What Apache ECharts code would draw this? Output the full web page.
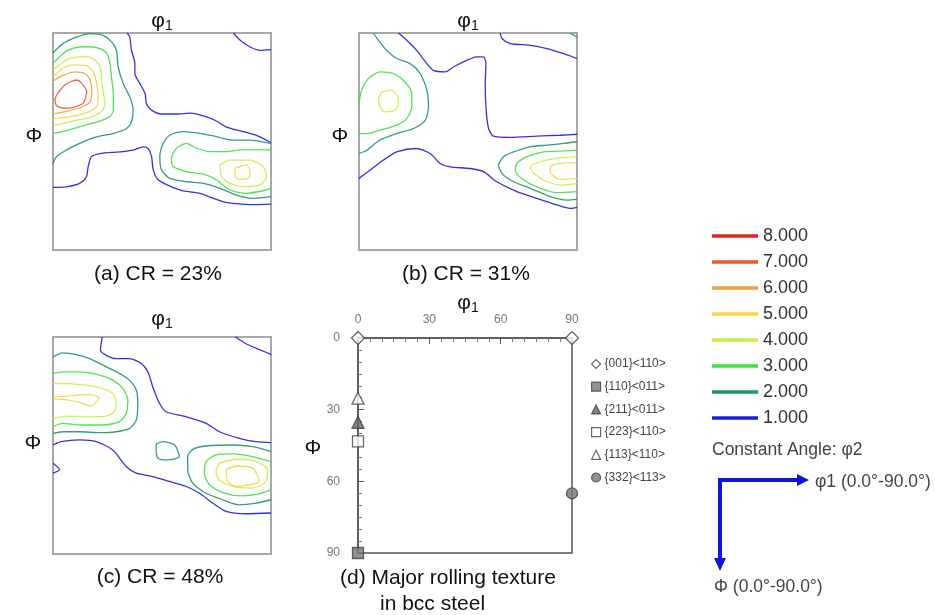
<!DOCTYPE html>
<html><head><meta charset="utf-8">
<script src="https://cdn.jsdelivr.net/npm/echarts@6/dist/echarts.min.js"></script>
<style>html,body{margin:0;padding:0;background:#fff}#c{width:935px;height:615px}</style>
</head><body><div id="c"></div>
<script>
// ---- contour levels ----
const levelLabels = ['8.000','7.000','6.000','5.000','4.000','3.000','2.000','1.000'];
const levelColors = ['#e3241b','#e85a2a','#f0a23c','#f7d448','#c5ef45','#3fe03f','#229070','#1c1ce0'];

// ---- (a) CR = 23% : [level, [[phi1, Phi], ...]] ----
const contoursA = [
  [1, [[74.5,0],[77.3,3.0],[81.4,5.8],[85.6,7.2],[90,6.9]]],
  [1, [[30.6,0],[31.7,1.7],[32.4,7.2],[33.8,12.7],[33.8,16.8],[35.9,21.0],[38.0,25.1],[38.6,29.3],[40.7,32.0],[44.9,33.6],[51.0,33.6],[57,33.2],[62.5,34.5],[67.5,36.5],[71.6,39.0],[78.5,40.9],[84,42.5],[90,45.5]]],
  [1, [[0,64.0],[5.5,63.8],[11.0,62.4],[13.8,59.6],[14.5,55.5],[15.9,51.3],[19.3,50.0],[27.6,49.3],[33.1,48.6],[37.3,47.2],[39.3,47.9],[40.7,51.3],[41.4,56.9],[43.5,61.0],[48.3,63.5],[53.8,65.5],[60.7,66.5],[66,68.5],[70.3,70.0],[75.9,70.8],[82.8,71.2],[90,71.0]]],
  [2, [[0,8.3],[4.1,4.4],[9.7,1.7],[15.2,0.3],[20.7,1.0],[24.2,3.7],[26.2,7.2],[26.9,14.1],[29.0,21.0],[31.7,26.5],[33.1,32.0],[32.4,36.8],[30.4,39.6],[24.8,41.7],[17.9,43.1],[11.0,45.8],[5.5,48.6],[1.4,51.3],[0,54.1]]],
  [2, [[90,45.8],[81.3,44.4],[74.4,44.4],[67.5,43.0],[60.6,41.6],[53.8,40.9],[48.3,42.3],[45.5,45.8],[44.1,51.3],[44.8,56.8],[48.3,60.3],[55.1,61.7],[62.0,62.4],[68.9,64.4],[75.8,67.2],[82.7,68.6],[90,67.9]]],
  [3, [[0,12.6],[4.3,8.4],[8.4,6.3],[13.9,5.7],[18.7,6.3],[22.2,8.4],[23.5,12.6],[24.2,18.8],[24.9,25.0],[24.9,31.9],[23.5,34.6],[18.0,37.0],[11.1,38.8],[5.6,40.5],[0,41.7]]],
  [3, [[90,48.5],[81.3,48.5],[77.2,48.5],[71.6,49.2],[64.8,49.2],[59.3,47.8],[55.1,45.8],[51.0,47.8],[48.9,52.0],[49.6,55.4],[55.1,57.5],[63.4,58.9],[67.5,61.0],[73.0,65.1],[79.9,66.5],[88.2,65.1],[90,64.4]]],
  [4, [[0,15.3],[4.3,11.9],[8.4,10.1],[13.9,9.8],[17.3,11.2],[19.4,13.9],[20.1,19.5],[20.8,25.0],[21.5,29.1],[20.1,32.5],[15.3,35.0],[8.4,36.5],[2.9,37.8],[0,38.3]]],
  [4, [[68.9,54.8],[73.0,52.7],[81.3,52.7],[86.8,55.4],[88.2,59.6],[85.4,63.0],[78.5,63.7],[73.0,62.4],[69.6,59.6],[68.9,54.8]]],
  [5, [[0,18.1],[4.3,14.6],[8.4,13.2],[13.9,13.5],[16.6,16.0],[18.0,20.8],[18.7,26.4],[18.0,30.5],[13.9,33.0],[8.4,34.5],[2.9,35.3],[0,35.6]]],
  [5, [[75.1,56.1],[79.9,54.7],[81.3,57.5],[80.6,60.3],[76.5,60.7],[75.1,58.9],[75.1,56.1]]],
  [6, [[0,20.0],[4.3,17.5],[9.1,16.1],[13.2,16.8],[15.3,19.5],[16.0,24.4],[15.3,28.6],[11.2,31.0],[5.6,32.5],[0,33.5]]],
  [7, [[1.5,25.7],[5.0,21.5],[9.8,19.5],[11.8,20.8],[13.9,24.3],[12.5,29.1],[8.4,30.8],[4.3,31.2],[1.5,30.2],[0.8,27.7],[1.5,25.7]]]
];

// ---- (b) CR = 31% ----
const contoursB = [
  [1, [[16.3,0],[19.7,3.0],[23.8,7.2],[28.0,12.7],[30.7,15.5],[35.6,16.1],[39.0,14.1],[43.1,12.0],[48.6,9.9],[51.4,9.9],[52.4,12.7],[52.1,21.0],[52.5,32.0],[53.5,39.6],[55.5,42.8],[62.4,43.3],[73.4,42.8],[83.1,42.4],[90,42.0]]],
  [1, [[58.3,0],[59.0,2.3],[62.4,4.4],[70.7,5.1],[77.6,6.5],[84.5,8.6],[90,10.6]]],
  [1, [[0,60.3],[4.5,56.9],[10.1,52.7],[15.6,49.3],[23.8,47.9],[29.4,50.0],[33.5,54.1],[37.6,55.5],[45.9,56.2],[51.4,57.5],[56.9,61.7],[65.2,65.8],[73.4,68.6],[81.7,71.3],[87.2,72.7],[90,72.3]]],
  [2, [[5.9,0],[8.0,3.0],[11.4,7.2],[15.6,10.6],[21.1,12.7],[25.2,16.8],[28.0,23.7],[28.7,30.6],[27.3,36.2],[22.5,39.6],[15.6,41.7],[8.7,44.4],[3.2,48.6],[0,50.0]]],
  [2, [[87.2,0],[90,1.7]]],
  [2, [[90,45.1],[84.5,45.8],[77.6,46.5],[70.7,47.2],[63.8,49.3],[59.7,51.3],[57.6,54.8],[59.0,58.2],[63.8,61.7],[70.7,64.4],[79.0,67.9],[85.8,69.3],[90,69.0]]],
  [3, [[0,29.3],[1.1,23.7],[3.9,18.9],[8.7,16.1],[14.2,16.8],[19.0,20.3],[21.8,25.1],[21.8,30.6],[19.7,35.5],[15.6,38.2],[8.7,40.3],[3.2,41.7],[0,41.7]]],
  [3, [[90,48.6],[84.5,48.9],[76.2,49.3],[69.3,51.3],[65.2,54.1],[64.5,56.9],[67.2,60.3],[73.4,63.8],[81.7,66.2],[90,65.8]]],
  [4, [[9.4,24.4],[13.5,23.7],[15.6,25.8],[16.3,29.3],[14.9,32.0],[10.7,32.7],[8.7,30.6],[8.0,27.9],[9.4,24.4]]],
  [4, [[90,51.3],[81.7,52.0],[74.8,53.4],[70.7,55.5],[72.1,58.2],[77.6,61.7],[84.5,63.1],[90,62.4]]],
  [5, [[90,53.8],[83.1,54.1],[79.0,55.5],[79.2,58.2],[83.1,60.7],[90,60.3]]]
];

// ---- (c) CR = 48% ----
const contoursC = [
  [1, [[20.3,0],[19.6,5.5],[22.0,7.6],[26.1,9.0],[31.6,9.0],[36.4,11.0],[39.2,14.5],[41.2,20.7],[44.0,27.6],[46.7,31.0],[55.0,33.1],[63.2,35.8],[68.7,39.3],[76.9,42.0],[83.8,43.4],[90,43.8]]],
  [1, [[75.3,0],[79.7,2.8],[85.2,5.2],[90,7.2]]],
  [1, [[0,44.8],[3.4,43.4],[11.0,42.7],[17.9,43.4],[24.7,46.9],[30.2,53.7],[34.4,56.5],[41.2,57.9],[48.1,59.9],[55.0,62.0],[60.5,64.8],[66.0,68.9],[71.4,72.3],[79.7,73.3],[90,73.0]]],
  [1, [[0,52.4],[2.7,55.1],[0,56.5]]],
  [2, [[0,8.3],[4.1,6.6],[9.6,7.3],[15.1,9.0],[22.0,12.4],[27.5,15.2],[31.6,17.9],[34.4,22.0],[35.0,27.6],[34.4,34.4],[31.6,37.9],[26.1,39.3],[19.2,39.7],[11.0,39.3],[4.1,39.3],[0,40.0]]],
  [2, [[42.6,44.4],[45.3,43.4],[50.2,44.8],[52.2,49.6],[47.4,51.0],[43.3,50.3],[42.6,46.9],[42.6,44.4]]],
  [2, [[90,47.5],[82.4,45.5],[74.2,44.8],[63.2,45.2],[57.7,46.6],[55.6,49.6],[55.6,55.1],[57.7,60.6],[63.2,64.8],[70.1,67.5],[76.9,69.6],[83.8,68.9],[90,67.5]]],
  [3, [[0,15.2],[4.1,14.5],[11.0,14.5],[19.2,15.8],[24.7,17.9],[28.9,21.4],[30.9,26.2],[30.2,31.7],[27.5,35.1],[20.6,36.5],[11.0,36.5],[4.1,35.8],[0,37.2]]],
  [3, [[90,51.7],[82.4,49.6],[74.2,48.5],[67.3,48.9],[63.2,51.7],[62.5,56.5],[64.6,61.3],[70.1,64.5],[78.3,65.9],[85.2,65.0],[90,63.4]]],
  [4, [[0,19.3],[5.5,19.3],[13.7,20.0],[20.6,21.4],[24.7,23.4],[26.1,26.9],[25.4,31.0],[22.0,32.8],[13.7,33.1],[5.5,32.8],[0,33.8]]],
  [4, [[68.7,52.4],[75.6,50.7],[83.8,51.7],[88.6,55.1],[87.9,59.9],[82.4,62.7],[74.2,62.0],[68.7,59.3],[67.3,55.8],[68.7,52.4]]],
  [5, [[0,24.8],[6.9,24.4],[15.1,23.8],[19.0,25.2],[15.5,28.7],[11.0,27.1],[4.1,25.9],[0,25.8]]],
  [5, [[71.4,55.1],[75.6,53.5],[82.4,54.4],[85.2,59.9],[81.1,61.3],[75.6,62.0],[72.1,59.9],[71.4,55.1]]]
];

// ---- (d) major rolling texture components: [phi1, Phi] ----
const texNames = ['{001}<110>','{110}<011>','{211}<011>','{223}<110>','{113}<110>','{332}<113>'];
const tex001 = [[0,0],[90,0]];
const tex110 = [[0,90]];
const tex211 = [[0,35.3]];
const tex223 = [[0,43.3]];
const tex113 = [[0,25.2]];
const tex332 = [[90,65]];

const FONT = 'Liberation Sans, Arial, sans-serif';
const chart = echarts.init(document.getElementById('c'), null, {renderer:'canvas'});

const gridsPos = [
  {left:53, top:33, width:218, height:217},
  {left:359, top:33, width:218, height:217},
  {left:53, top:337, width:218, height:217},
  {left:358, top:338, width:214, height:215}
];
const grids = gridsPos.map((g,i)=>Object.assign({show:true, backgroundColor:'transparent',
  borderColor: i<3 ? '#a8a8a8' : '#555', borderWidth: i<3 ? 2 : 1.5}, g));

const xAxes = [], yAxes = [];
for (let i=0;i<3;i++){
  xAxes.push({gridIndex:i, type:'value', min:0, max:90, show:false});
  yAxes.push({gridIndex:i, type:'value', min:0, max:90, inverse:true, show:false});
}
function axStyle(margin){
  return {
    axisLine:{show:true, onZero:false, lineStyle:{color:'#555', width:1.5}},
    axisTick:{show:true, inside:true, length:6, lineStyle:{color:'#555', width:1}},
    minorTick:{show:true, splitNumber:6, length:4, lineStyle:{color:'#777', width:1}},
    splitLine:{show:false}, minorSplitLine:{show:false},
    axisLabel:{color:'#777', fontSize:12, fontFamily:FONT, margin:margin}
  };
}
xAxes.push(Object.assign({gridIndex:3, type:'value', min:0, max:90, interval:30, position:'top'}, axStyle(12)));
yAxes.push(Object.assign({gridIndex:3, type:'value', min:0, max:90, interval:30, inverse:true, position:'left'}, axStyle(18)));

const series = [];
[contoursA, contoursB, contoursC].forEach((set, gi)=>{
  set.forEach(([lvl, pts])=>{
    const col = levelColors[8-lvl];
    series.push({type:'line', name: levelLabels[8-lvl], xAxisIndex:gi, yAxisIndex:gi,
      data: pts, symbol:'none', smooth:0.25, color: col,
      lineStyle:{color:col, width:1.3, opacity:0.9}, silent:true, animation:false, z:3});
  });
});
// level 8 (legend only, not reached in these sections)
series.push({type:'line', name:'8.000', xAxisIndex:0, yAxisIndex:0, data:[], color:levelColors[0], symbol:'none'});

const texData = [tex001, tex110, tex211, tex223, tex113, tex332];
const texSym = ['diamond','rect','triangle','rect','triangle','circle'];
const texSize = [[13,13],11,12,11,12,11];
const texFill = ['#fff','#777','#666','#fff','#fff','#777'];
texData.forEach((d,i)=>{
  series.push({type:'scatter', name:texNames[i], xAxisIndex:3, yAxisIndex:3, data:d,
    symbol:texSym[i], symbolSize:texSize[i], clip:false, animation:false, z:5,
    itemStyle:{color:texFill[i], borderColor:'#444', borderWidth:1.3}});
});

function txt(x,y,text,size,opts){
  return Object.assign({type:'text', x:x, y:y, style:Object.assign({text:text, fill:'#111',
    font: size+'px '+FONT, align:'center', verticalAlign:'middle'}, opts||{})});
}
function phiTitle(x,y){
  return {type:'text', x:x, y:y, style:{text:'{a|φ}{b|1}', align:'center', verticalAlign:'middle',
    rich:{a:{fontSize:21, fontFamily:FONT, fill:'#111', color:'#111'},
          b:{fontSize:14, fontFamily:FONT, fill:'#111', color:'#111', padding:[10,0,0,0]}}}};
}

const graphic = [
  phiTitle(162,21), phiTitle(468,21), phiTitle(162,319), phiTitle(468,303),
  txt(34,136,'Φ',21), txt(340,136,'Φ',21), txt(33,443,'Φ',21), txt(313,448,'Φ',21),
  txt(158,274,'(a) CR = 23%',21), txt(466,274,'(b) CR = 31%',21),
  txt(160,577,'(c) CR = 48%',21),
  txt(340,578,'(d) Major rolling texture',21,{align:'left'}),
  txt(380,604,'in bcc steel',21,{align:'left'}),
  txt(712,450,'Constant Angle: φ2',17.5,{align:'left', fill:'#444'}),
  {type:'polyline', shape:{points:[[720,561],[720,480],[799,480]]}, style:{stroke:'#1414d8', lineWidth:4, fill:null}},
  {type:'polygon', shape:{points:[[797,474],[809,480],[797,486]]}, style:{fill:'#1414d8'}},
  {type:'polygon', shape:{points:[[714,558],[720,571],[726,558]]}, style:{fill:'#1414d8'}},
  txt(815,482,'φ1 (0.0°-90.0°)',17.5,{align:'left', fill:'#444'}),
  txt(714,587,'Φ (0.0°-90.0°)',17.5,{align:'left', fill:'#444'})
];

chart.setOption({
  animation:false,
  backgroundColor:'#fff',
  grid: grids, xAxis: xAxes, yAxis: yAxes, series: series, graphic: graphic,
  legend:[
    {data: levelLabels, orient:'vertical', left:712, top:226, padding:0, icon:'rect', itemWidth:46, itemHeight:3.5,
     itemGap:6, selectedMode:false, textStyle:{fontSize:18, lineHeight:20, color:'#333', fontFamily:FONT}},
    {data: texNames, orient:'vertical', left:591, top:357, padding:0, itemWidth:9, itemHeight:9, itemGap:8.7,
     itemStyle:{borderColor:'#444', borderWidth:1.2}, selectedMode:false,
     textStyle:{fontSize:12, lineHeight:14, color:'#444', fontFamily:FONT, padding:[0,0,0,-1]}}
  ]
});
</script></body></html>
